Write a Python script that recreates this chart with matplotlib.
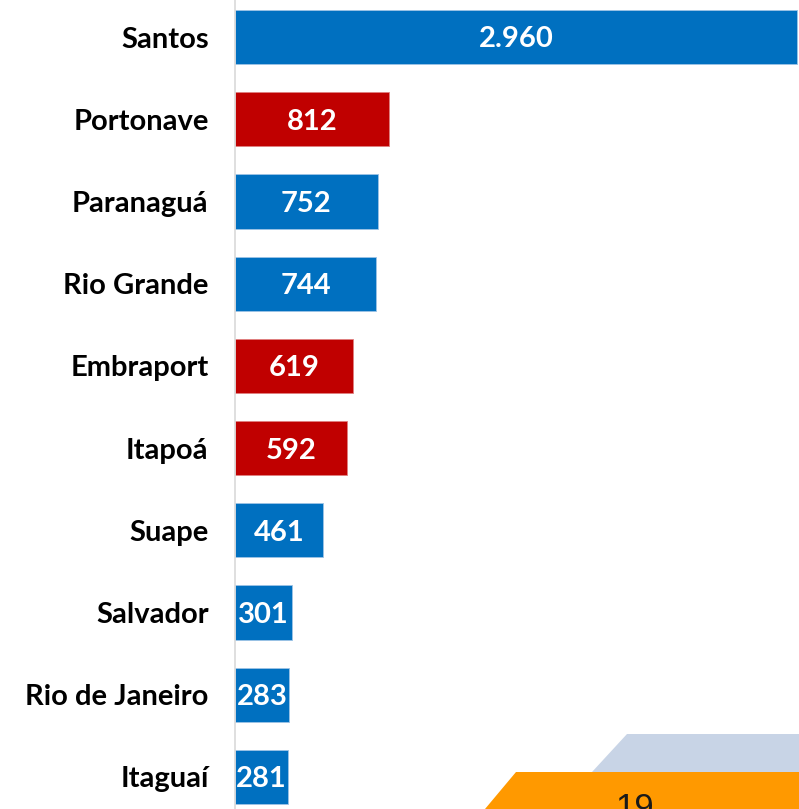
import matplotlib.pyplot as plt
from matplotlib.patches import Polygon

# Container throughput by port (thousand TEU)
ports = ['Santos', 'Portonave', 'Paranaguá', 'Rio Grande', 'Embraport',
         'Itapoá', 'Suape', 'Salvador', 'Rio de Janeiro', 'Itaguaí']
values = [2960, 812, 752, 744, 619, 592, 461, 301, 283, 281]
private = [False, True, False, False, True, True, False, False, False, False]

BLUE = '#0070C0'
RED = '#C00000'

plt.rcParams['font.family'] = ['Lato', 'DejaVu Sans']

W, H = 799, 809
fig = plt.figure(figsize=(W / 100, H / 100), dpi=100)
ax = fig.add_axes([235 / W, 0, (W - 235) / W, 1])

colors = [RED if p else BLUE for p in private]
bars = ax.barh(range(len(ports)), values, height=0.66, color=colors,
               edgecolor='#9DC3E6', linewidth=0.6)
for b, c in zip(bars, colors):
    if c == RED:
        b.set_edgecolor('#E08080')

for i, v in enumerate(values):
    txt = f'{v:,}'.replace(',', '.')
    ax.text(v / 2, i + 0.03, txt, ha='center', va='center', color='white',
            fontsize=21, fontweight='bold')

ax.set_yticks(range(len(ports)))
ax.set_yticklabels(ports, fontsize=21, fontweight='bold')
ax.tick_params(axis='y', length=0, pad=19)
ax.set_xticks([])
ax.set_xlim(0, 2968)
ax.set_ylim(9 + 32 / 82.2, -37 / 82.2)
for s in ['top', 'right', 'bottom']:
    ax.spines[s].set_visible(False)
ax.spines['left'].set_color('#D9D9D9')
ax.spines['left'].set_linewidth(1.2)

# decorative shapes at the bottom right (cut off by the image edge)
def px(x, y):
    return (x / W, 1 - y / H)

gray = Polygon([px(627, 734), px(W, 734), px(W, 772), px(592, 772)],
               closed=True, facecolor='#C8D4E6', edgecolor='none',
               transform=fig.transFigure)
orange = Polygon([px(516, 772), px(W, 772), px(W, H), px(485, H)],
                 closed=True, facecolor='#FF9900', edgecolor='none',
                 transform=fig.transFigure)
fig.patches.extend([gray, orange])
fig.text(635 / W, 1 - 792 / H, '19', ha='center', va='top', fontsize=25,
         color='#1a1a1a', family='Liberation Sans')

plt.savefig('out.png', dpi=100)
